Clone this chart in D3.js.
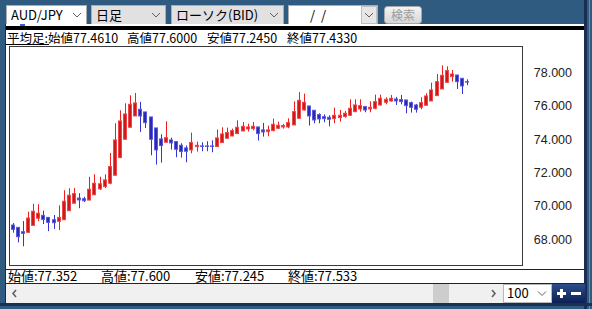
<!DOCTYPE html>
<html>
<head>
<meta charset="utf-8">
<script src="https://cdn.jsdelivr.net/npm/d3@7/dist/d3.min.js"></script>
<style>
  html, body { margin: 0; padding: 0; background: #2f5b80; }
  svg { display: block; font-family: "Noto Sans CJK JP", sans-serif; }
</style>
</head>
<body>
<svg id="chart" width="592" height="309"></svg>
<script>
// heikin-ashi candles (oldest -> newest)
const opens = [68.85, 68.71, 68.45, 68.41, 68.83, 69.26, 69.43, 69.31, 69.17, 69.07,
  69.17, 69.71, 70.16, 70.47, 70.43, 70.35, 70.67, 71.02, 71.16, 71.36,
  71.84, 72.90, 74.00, 74.72, 75.40, 75.80, 75.64, 75.34, 74.68, 74.02,
  73.82, 73.96, 73.86, 73.64, 73.48, 73.36, 73.56, 73.60, 73.60, 73.60,
  73.56, 73.80, 74.06, 74.20, 74.34, 74.50, 74.62, 74.64, 74.74, 74.56,
  74.46, 74.52, 74.66, 74.74, 74.74, 74.86, 75.26, 75.76, 76.00, 75.74,
  75.48, 75.36, 75.32, 75.24, 75.30, 75.36, 75.44, 75.66, 75.82, 75.96,
  75.82, 75.86, 76.06, 76.22, 76.30, 76.42, 76.38, 76.36, 76.20, 76.06,
  75.92, 76.04, 76.30, 76.62, 77.02, 77.42, 77.76, 77.86, 77.66, 77.461];
const highs = [68.97, 68.71, 69.09, 69.65, 70.13, 70.10, 69.71, 69.31, 69.45, 70.03,
  70.94, 71.06, 71.08, 70.76, 70.55, 71.75, 71.90, 71.75, 71.90, 73.18,
  74.96, 75.74, 76.16, 76.64, 76.78, 76.24, 75.64, 75.34, 74.68, 74.30,
  75.08, 74.10, 73.86, 73.76, 73.62, 74.40, 73.86, 73.82, 73.88, 73.94,
  74.58, 74.72, 74.70, 74.64, 75.14, 75.04, 74.94, 75.04, 74.74, 74.98,
  74.82, 75.24, 75.06, 74.92, 75.26, 76.28, 76.84, 76.74, 76.00, 75.74,
  75.56, 75.50, 75.44, 75.90, 75.76, 75.70, 76.40, 76.40, 76.40, 76.00,
  76.28, 76.68, 76.68, 76.52, 76.66, 76.54, 76.66, 76.36, 76.26, 76.12,
  76.52, 76.76, 77.40, 77.92, 78.44, 78.38, 78.16, 77.86, 77.66, 77.600];
const lows = [68.39, 67.81, 67.57, 68.41, 68.83, 69.08, 68.91, 68.48, 68.61, 68.55,
  69.17, 69.71, 70.14, 69.86, 70.23, 70.34, 70.64, 70.95, 71.06, 71.30,
  71.84, 72.90, 74.00, 74.72, 75.40, 74.44, 74.68, 73.04, 72.48, 72.60,
  73.82, 73.38, 72.92, 72.90, 72.62, 73.16, 73.26, 73.28, 73.28, 73.22,
  73.56, 73.80, 74.04, 74.18, 74.34, 74.48, 74.46, 74.54, 73.92, 74.16,
  74.18, 74.48, 74.62, 74.64, 74.66, 74.86, 75.26, 75.72, 74.82, 74.96,
  74.96, 75.02, 74.78, 74.96, 75.06, 75.30, 75.40, 75.62, 75.66, 75.62,
  75.62, 75.80, 76.02, 76.10, 76.26, 76.06, 76.10, 75.56, 75.60, 75.60,
  75.80, 76.04, 76.30, 76.62, 77.02, 77.42, 77.46, 77.02, 76.72, 77.245];
const closes = [68.59, 68.15, 68.35, 69.27, 69.68, 69.56, 69.19, 69.01, 68.99, 69.31,
  70.28, 70.64, 70.74, 70.36, 70.31, 71.00, 71.36, 71.33, 71.56, 72.36,
  73.96, 75.10, 75.52, 76.10, 76.18, 75.40, 75.00, 74.00, 73.36, 73.62,
  74.10, 73.78, 73.40, 73.26, 73.28, 73.80, 73.64, 73.57, 73.57, 73.57,
  74.08, 74.32, 74.40, 74.52, 74.72, 74.78, 74.74, 74.78, 74.34, 74.44,
  74.56, 74.90, 74.84, 74.82, 75.00, 75.66, 76.34, 76.22, 75.40, 75.16,
  75.22, 75.24, 75.20, 75.44, 75.44, 75.56, 75.86, 76.06, 76.02, 75.76,
  75.92, 76.26, 76.46, 76.40, 76.46, 76.30, 76.26, 76.02, 75.92, 75.80,
  76.20, 76.60, 76.96, 77.46, 77.84, 78.12, 77.92, 77.46, 77.20, 77.433];

const yTicks = [68, 70, 72, 74, 76, 78];
const slotCount = 100; // display count in the "100" box

const headerLabels = ['平均足:始値77.4610', '高値77.6000', '安値77.2450', '終値77.4330'];
const headerX = [7, 127, 207, 287];
const footerLabels = ['始値:77.352', '高値:77.600', '安値:77.245', '終値:77.533'];
const footerX = [8, 101, 195, 288];

const svg = d3.select('#chart');

svg.append('rect').attr('width', 592).attr('height', 309).attr('fill', '#2f5b80');
// right edge strip
svg.append('rect').attr('x', 584).attr('y', 0).attr('width', 3).attr('height', 309).attr('fill', '#1b2d52');
svg.append('rect').attr('x', 589).attr('y', 0).attr('width', 1).attr('height', 309).attr('fill', '#6a8bb3');

// ---- top toolbar ----
const chevron = (g, cx, cy) => {
  g.append('polyline')
    .attr('points', `${cx - 4},${cy - 2} ${cx},${cy + 2} ${cx + 4},${cy - 2}`)
    .attr('fill', 'none').attr('stroke', '#606060').attr('stroke-width', 1);
};

const combos = [
  { x: 6, w: 80, label: 'AUD/JPY', fill: '#ffffff' },
  { x: 91, w: 74, label: '日足', fill: '#e1e1e1' },
  { x: 171, w: 112, label: 'ローソク(BID)', fill: '#e1e1e1' }
];
combos.forEach(c => {
  const g = svg.append('g');
  g.append('rect').attr('x', c.x + 0.5).attr('y', 5.5).attr('width', c.w).attr('height', 19)
    .attr('fill', c.fill).attr('stroke', '#adadad');
  g.append('text').attr('x', c.x + 5).attr('y', 20).style('font-size', '13px').attr('fill', '#000').text(c.label);
  chevron(g, c.x + c.w - 9, 15);
});

// date combo
const dg = svg.append('g');
dg.append('rect').attr('x', 288.5).attr('y', 5.5).attr('width', 89).attr('height', 19)
  .attr('fill', '#fff').attr('stroke', '#adadad');
dg.append('rect').attr('x', 361.5).attr('y', 6.5).attr('width', 15).attr('height', 17)
  .attr('fill', '#e6e6e6').attr('stroke', '#c0c0c0');
dg.append('text').attr('x', 310).attr('y', 20).style('font-size', '13px').style('white-space', 'pre').text('/  /');
chevron(dg, 369, 15);

// search button (disabled)
const grad = svg.append('defs').append('linearGradient').attr('id', 'btn').attr('x1', 0).attr('y1', 0).attr('x2', 0).attr('y2', 1);
grad.append('stop').attr('offset', 0).attr('stop-color', '#f4f4f4');
grad.append('stop').attr('offset', 1).attr('stop-color', '#d6d6d6');
svg.append('rect').attr('x', 384.5).attr('y', 6.5).attr('width', 37).attr('height', 17).attr('rx', 3)
  .attr('fill', 'url(#btn)').attr('stroke', '#a8a8a8');
svg.append('text').attr('x', 403).attr('y', 20).attr('text-anchor', 'middle').style('font-size', '12px')
  .attr('fill', '#9c9c9c').text('検索');

// ---- white panel ----
svg.append('rect').attr('x', 6).attr('y', 24).attr('width', 578).attr('height', 260).attr('fill', '#fff');
svg.append('rect').attr('x', 5).attr('y', 24).attr('width', 1).attr('height', 282).attr('fill', '#1b2b44');
svg.append('rect').attr('x', 6).attr('y', 26).attr('width', 578).attr('height', 4).attr('fill', '#000');
svg.append('rect').attr('x', 20).attr('y', 24).attr('width', 5).attr('height', 2).attr('fill', '#3a5bdc');

svg.append('g').selectAll('text').data(headerLabels).join('text')
  .attr('x', (d, i) => headerX[i]).attr('y', 43).style('font-size', '12.5px').attr('fill', '#000')
  .text(d => d);
svg.append('line').attr('x1', 6).attr('x2', 49).attr('y1', 44.5).attr('y2', 44.5).attr('stroke', '#000');

// ---- plot ----
const plot = { left: 9.5, top: 46.5, right: 522.5, bottom: 265.5 };
svg.append('rect').attr('x', plot.left).attr('y', plot.top)
  .attr('width', plot.right - plot.left).attr('height', plot.bottom - plot.top)
  .attr('fill', '#fff').attr('stroke', '#3a3a3a');

const x = d3.scaleBand().domain(d3.range(slotCount)).range([10.15, 520.85]).paddingInner(0);
const y = d3.scaleLinear().domain([66.45, 79.6]).range([265, 46]);

const candles = opens.map((o, i) => ({ i, o, h: highs[i], l: lows[i], c: closes[i] }));
const cx = d => Math.round(x(d.i) + x.bandwidth() / 2);
const isUp = d => d.c >= d.o;

const cg = svg.append('g').selectAll('g').data(candles).join('g');
cg.append('line')
  .attr('x1', d => cx(d) + 0.5).attr('x2', d => cx(d) + 0.5)
  .attr('y1', d => y(d.h)).attr('y2', d => y(d.l))
  .attr('stroke', d => isUp(d) ? '#f01e1e' : '#3535d6').attr('stroke-width', 1);
cg.append('rect')
  .attr('x', d => cx(d) - 1.5).attr('width', 3)
  .attr('y', d => y(Math.max(d.o, d.c)))
  .attr('height', d => Math.max(0.5, Math.abs(y(d.o) - y(d.c))))
  .attr('fill', d => isUp(d) ? '#cc1a1a' : '#2a2aaa')
  .attr('stroke', d => isUp(d) ? '#f04848' : '#5a5ae4').attr('stroke-width', 1);

// price axis on the right
const axis = svg.append('g').attr('transform', 'translate(572,0)')
  .call(d3.axisLeft(y).tickValues(yTicks).tickSize(0).tickPadding(0).tickFormat(d3.format('.3f')));
axis.select('.domain').remove();
axis.selectAll('text').style('font-family', '"Liberation Sans", Arial, sans-serif')
  .style('font-size', '12.5px').attr('fill', '#222');

// ---- footer ----
svg.append('line').attr('x1', 6).attr('x2', 584).attr('y1', 269.5).attr('y2', 269.5).attr('stroke', '#222');
svg.append('g').selectAll('text').data(footerLabels).join('text')
  .attr('x', (d, i) => footerX[i]).attr('y', 281).style('font-size', '13px').attr('fill', '#000')
  .text(d => d);
svg.append('line').attr('x1', 6).attr('x2', 584).attr('y1', 283.5).attr('y2', 283.5).attr('stroke', '#222');

// scrollbar
svg.append('rect').attr('x', 6).attr('y', 284).attr('width', 497).attr('height', 19).attr('fill', '#f0f0f0');
svg.append('rect').attr('x', 433).attr('y', 284).attr('width', 16).attr('height', 19).attr('fill', '#cdcdcd');
svg.append('polyline').attr('points', '16,290 13,293.5 16,297').attr('fill', 'none')
  .attr('stroke', '#606060').attr('stroke-width', 1.6);
svg.append('polyline').attr('points', '492,290 495,293.5 492,297').attr('fill', 'none')
  .attr('stroke', '#606060').attr('stroke-width', 1.6);

// count combo
svg.append('rect').attr('x', 503.5).attr('y', 284.5).attr('width', 48).attr('height', 18)
  .attr('fill', '#fff').attr('stroke', '#b8b8b8');
svg.append('text').attr('x', 507).attr('y', 298).style('font-size', '13px').text(slotCount);
chevron(svg, 542, 293.5);

// zoom buttons
const bg2 = svg.select('defs').append('linearGradient').attr('id', 'nav').attr('x1', 0).attr('y1', 0).attr('x2', 0).attr('y2', 1);
bg2.append('stop').attr('offset', 0).attr('stop-color', '#2c4f8c');
bg2.append('stop').attr('offset', 1).attr('stop-color', '#0b1f55');
svg.append('rect').attr('x', 552).attr('y', 284).attr('width', 33).attr('height', 19).attr('fill', 'url(#nav)');
svg.append('rect').attr('x', 557).attr('y', 292).attr('width', 9).attr('height', 3).attr('fill', '#fff');
svg.append('rect').attr('x', 560).attr('y', 289).attr('width', 3).attr('height', 9).attr('fill', '#fff');
svg.append('rect').attr('x', 571).attr('y', 292).attr('width', 10).attr('height', 3).attr('fill', '#fff');

svg.append('rect').attr('x', 0).attr('y', 303).attr('width', 592).attr('height', 3).attr('fill', '#1a2f55');
</script>
</body>
</html>
